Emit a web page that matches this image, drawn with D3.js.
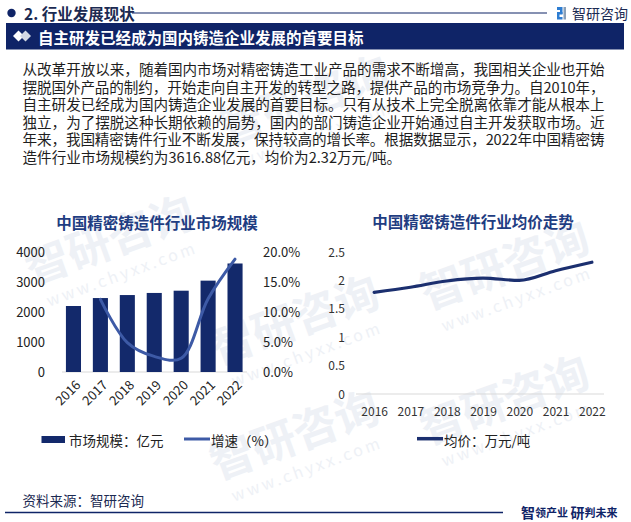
<!DOCTYPE html>
<html>
<head>
<meta charset="utf-8">
<script src="https://cdn.jsdelivr.net/npm/d3@7"></script>
<style>
  html, body { margin: 0; padding: 0; background: #ffffff; }
  svg { display: block; }
  text { font-family: "Noto Sans CJK SC", "Noto Sans", sans-serif; }
</style>
</head>
<body>
<svg id="chart" width="631" height="522"></svg>
<script>
// ---------------- data ----------------
const years = ["2016", "2017", "2018", "2019", "2020", "2021", "2022"];
const marketSize = [2200, 2465, 2565, 2635, 2710, 3045, 3616.88];      // 亿元
const growthRate = [null, 12.1, 4.9, 2.6, 2.3, 12.2, 18.8];            // %
const avgPrice = [1.79, 1.88, 1.99, 2.04, 2.00, 2.17, 2.32];            // 万元/吨
const leftTicks = [0, 1000, 2000, 3000, 4000];
const rightTicks = [0, 5, 10, 15, 20];
const priceTicks = [0, 0.5, 1, 1.5, 2, 2.5];

const sectionTitle = "2. 行业发展现状";
const brandName = "智研咨询";
const bannerTitle = "自主研发已经成为国内铸造企业发展的首要目标";
const bodyLines = [
  "从改革开放以来，随着国内市场对精密铸造工业产品的需求不断增高，我国相关企业也开始",
  "摆脱国外产品的制约，开始走向自主开发的转型之路，提供产品的市场竞争力。自2010年，",
  "自主研发已经成为国内铸造企业发展的首要目标。只有从技术上完全脱离依靠才能从根本上",
  "独立，为了摆脱这种长期依赖的局势，国内的部门铸造企业开始通过自主开发获取市场。近",
  "年来，我国精密铸件行业不断发展，保持较高的增长率。根据数据显示，2022年中国精密铸",
  "造件行业市场规模约为3616.88亿元，均价为2.32万元/吨。"
];
const leftTitle = "中国精密铸造件行业市场规模";
const rightTitle = "中国精密铸造件行业均价走势";
const legendBar = "市场规模：亿元";
const legendGrowth = "增速（%）";
const legendPrice = "均价：万元/吨";
const sourceText = "资料来源：智研咨询";
const wmBrand = "智研咨询";
const wmSite = "www.chyxx.com";

// ---------------- colours ----------------
const NAVY = "#0f2467";
const BAR = "#13296b";
const GROWTH = "#3d5aa6";
const PRICE = "#1b2f6f";
const TITLE = "#1f3d82";

const svg = d3.select("#chart");

// ---------------- faint watermark ----------------
const wm = svg.append("g");
const wmSpots = [[310, 115], [115, 255], [300, 335], [510, 280], [510, 415], [300, 450]];
wmSpots.forEach(([x, y]) => {
  const g = wm.append("g").attr("transform", `translate(${x},${y}) rotate(-20)`);
  g.append("text").attr("text-anchor", "middle").attr("font-size", 44).attr("font-weight", 700)
    .attr("fill", "#eef1f6").text(wmBrand);
  g.append("text").attr("text-anchor", "middle").attr("y", 26).attr("font-size", 16)
    .attr("letter-spacing", 3).attr("fill", "#eef1f6").text(wmSite);
});

// ---------------- header ----------------
svg.append("circle").attr("cx", 11.5).attr("cy", 13).attr("r", 4.2).attr("fill", NAVY);
svg.append("text").attr("x", 24).attr("y", 13).attr("dominant-baseline", "central")
  .attr("font-size", 15.5).attr("font-weight", 700).attr("fill", "#1b2a52").text(sectionTitle);
svg.append("line").attr("x1", 132).attr("x2", 547).attr("y1", 13).attr("y2", 13)
  .attr("stroke", NAVY).attr("stroke-width", 1.2);
// small logo
const logo = svg.append("g").attr("transform", "translate(557,7)");
logo.append("rect").attr("x", 0).attr("y", 0).attr("width", 5).attr("height", 3).attr("fill", "#2d7dd2");
logo.append("rect").attr("x", 3).attr("y", 0).attr("width", 2.5).attr("height", 7).attr("fill", "#2d7dd2");
logo.append("rect").attr("x", 0).attr("y", 5).attr("width", 5.5).attr("height", 2.5).attr("fill", "#2d7dd2");
logo.append("rect").attr("x", 0).attr("y", 5).attr("width", 2.5).attr("height", 7).attr("fill", "#2d7dd2");
logo.append("rect").attr("x", 0).attr("y", 10).attr("width", 5.5).attr("height", 2.5).attr("fill", "#2d7dd2");
logo.append("rect").attr("x", 6.5).attr("y", 0).attr("width", 2.5).attr("height", 12.5).attr("fill", "#8aa0b8");
svg.append("text").attr("x", 572).attr("y", 13).attr("dominant-baseline", "central")
  .attr("font-size", 14).attr("fill", "#1b2a52").text(brandName);

// banner
svg.append("rect").attr("x", 6).attr("y", 23).attr("width", 618).attr("height", 26.5).attr("fill", NAVY);
svg.append("path").attr("d", "M13,36 L18.5,30.5 L24,36 L18.5,41.5 Z").attr("fill", "#ffffff");
svg.append("path").attr("d", "M20,36 L25.5,30.5 L31,36 L25.5,41.5 Z").attr("fill", "#d4d9e4");
svg.append("text").attr("x", 38).attr("y", 36.5).attr("dominant-baseline", "central")
  .attr("font-size", 15.5).attr("font-weight", 700).attr("fill", "#ffffff").text(bannerTitle);

// body text
bodyLines.forEach((line, i) => {
  const t = svg.append("text").attr("x", 22.5).attr("y", 68.5 + i * 17.5)
    .attr("dominant-baseline", "central").attr("font-size", 14.6).attr("fill", "#1e1e1e").text(line);
  if (i < bodyLines.length - 1) t.attr("textLength", 582).attr("lengthAdjust", "spacing");
});

// ---------------- left chart ----------------
const xL = d3.scaleBand().domain(years).range([60, 248.5]).paddingInner(0.44).paddingOuter(0.22);
const yL = d3.scaleLinear().domain([0, 4000]).range([372, 252]);
const yG = d3.scaleLinear().domain([0, 20]).range([372, 252]);

svg.append("text").attr("x", 157).attr("y", 221.5).attr("text-anchor", "middle")
  .attr("dominant-baseline", "central").attr("font-size", 15.5).attr("font-weight", 700)
  .attr("fill", TITLE).text(leftTitle);

const axL = svg.append("g").attr("transform", "translate(45,0)")
  .call(d3.axisLeft(yL).tickValues(leftTicks).tickSize(0).tickPadding(0).tickFormat(d3.format("d")));
axL.select(".domain").remove();
axL.selectAll("text").attr("font-size", 13).attr("fill", "#222").attr("dy", "0.34em")
  .attr("font-family", "'Noto Sans', 'Open Sans', sans-serif");

const axR = svg.append("g").attr("transform", "translate(263,0)")
  .call(d3.axisRight(yG).tickValues(rightTicks).tickSize(0).tickPadding(0).tickFormat(d => d.toFixed(1) + "%"));
axR.select(".domain").remove();
axR.selectAll("text").attr("font-size", 13).attr("fill", "#222").attr("dy", "0.34em")
  .attr("font-family", "'Noto Sans', 'Open Sans', sans-serif");

svg.append("line").attr("x1", 62).attr("x2", 247).attr("y1", 372).attr("y2", 372)
  .attr("stroke", "#d9d9d9").attr("stroke-width", 1);

svg.append("g").selectAll("rect").data(years).join("rect")
  .attr("x", d => xL(d)).attr("width", xL.bandwidth())
  .attr("y", (d, i) => yL(marketSize[i])).attr("height", (d, i) => yL(0) - yL(marketSize[i]))
  .attr("fill", BAR);

const gPts = years.map((y, i) => ({ y, v: growthRate[i] })).filter(d => d.v != null);
svg.append("path").datum(gPts)
  .attr("d", d3.line().x(d => xL(d.y) + xL.bandwidth() / 2).y(d => yG(d.v)).curve(d3.curveCatmullRom.alpha(0.5)))
  .attr("fill", "none").attr("stroke", GROWTH).attr("stroke-width", 3).attr("stroke-linecap", "round");

// rotated x labels
svg.append("g").selectAll("text").data(years).join("text")
  .attr("transform", d => `translate(${xL(d) + xL.bandwidth() / 2 + 4},${382}) rotate(-45)`)
  .attr("text-anchor", "end").attr("dominant-baseline", "central")
  .attr("font-size", 13).attr("fill", "#222")
  .attr("font-family", "'Noto Sans', 'Open Sans', sans-serif").text(d => d);

// left legend
svg.append("rect").attr("x", 41.5).attr("y", 436).attr("width", 23.5).attr("height", 7).attr("fill", BAR);
svg.append("text").attr("x", 69).attr("y", 439.5).attr("dominant-baseline", "central")
  .attr("font-size", 13.5).attr("fill", "#222").text(legendBar);
svg.append("line").attr("x1", 184).attr("x2", 210).attr("y1", 439).attr("y2", 439)
  .attr("stroke", GROWTH).attr("stroke-width", 3);
svg.append("text").attr("x", 211).attr("y", 439.5).attr("dominant-baseline", "central")
  .attr("font-size", 13.5).attr("fill", "#222").text(legendGrowth);

// ---------------- right chart ----------------
const xR = d3.scalePoint().domain(years).range([356, 610]).padding(0.5);
const yP = d3.scaleLinear().domain([0, 2.5]).range([394, 252]);

svg.append("text").attr("x", 473).attr("y", 220.5).attr("text-anchor", "middle")
  .attr("dominant-baseline", "central").attr("font-size", 15.5).attr("font-weight", 700)
  .attr("fill", TITLE).text(rightTitle);

const axP = svg.append("g").attr("transform", "translate(345,0)")
  .call(d3.axisLeft(yP).tickValues(priceTicks).tickSize(0).tickPadding(0).tickFormat(d => String(d)));
axP.select(".domain").remove();
axP.selectAll("text").attr("font-size", 12).attr("fill", "#333").attr("dy", "0.34em")
  .attr("font-family", "'Liberation Sans', 'DejaVu Sans', sans-serif");

svg.append("line").attr("x1", 356).attr("x2", 604).attr("y1", 394).attr("y2", 394)
  .attr("stroke", "#d9d9d9").attr("stroke-width", 1);

const axX = svg.append("g").attr("transform", "translate(0,394)")
  .call(d3.axisBottom(xR).tickSize(0).tickPadding(0));
axX.select(".domain").remove();
axX.selectAll("text").attr("font-size", 12).attr("fill", "#333").attr("dy", "0").attr("y", 22)
  .attr("font-family", "'Liberation Sans', 'DejaVu Sans', sans-serif");

svg.append("path").datum(years.map((y, i) => ({ y, v: avgPrice[i] })))
  .attr("d", d3.line().x(d => xR(d.y)).y(d => yP(d.v)).curve(d3.curveMonotoneX))
  .attr("fill", "none").attr("stroke", PRICE).attr("stroke-width", 3.2).attr("stroke-linecap", "round");

// right legend
svg.append("line").attr("x1", 417).attr("x2", 443).attr("y1", 438.7).attr("y2", 438.7)
  .attr("stroke", PRICE).attr("stroke-width", 3.5);
svg.append("text").attr("x", 444).attr("y", 439.5).attr("dominant-baseline", "central")
  .attr("font-size", 13.5).attr("fill", "#222").text(legendPrice);

// ---------------- footer ----------------
svg.append("text").attr("x", 22.5).attr("y", 500).attr("dominant-baseline", "central")
  .attr("font-size", 13.5).attr("fill", "#1b2a52").text(sourceText);
svg.append("line").attr("x1", 5).attr("x2", 503).attr("y1", 512.5).attr("y2", 512.5)
  .attr("stroke", NAVY).attr("stroke-width", 1.3);
const slogan = svg.append("text").attr("x", 521).attr("y", 512).attr("dominant-baseline", "central")
  .attr("fill", NAVY).attr("font-weight", 700);
slogan.append("tspan").attr("font-size", 14).text("智");
slogan.append("tspan").attr("font-size", 11).text("领产业 ");
slogan.append("tspan").attr("font-size", 14).text("研");
slogan.append("tspan").attr("font-size", 11).text("判未来");
</script>
</body>
</html>
